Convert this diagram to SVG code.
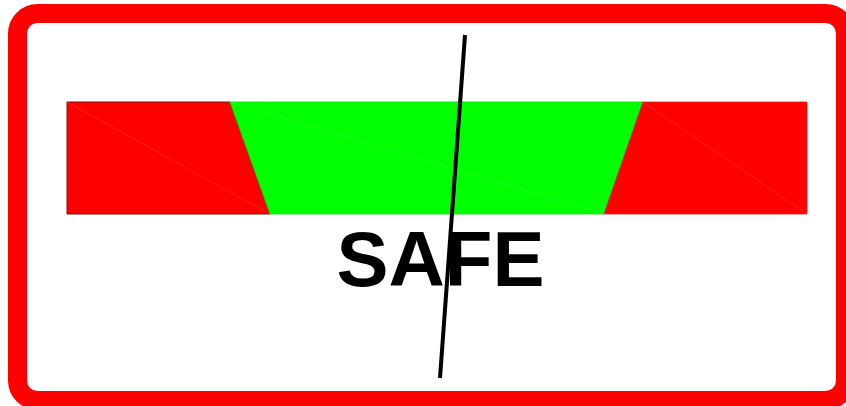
<svg xmlns="http://www.w3.org/2000/svg" width="846" height="406" viewBox="0 0 846 406">
<style>
.seam{stroke:#ff5050;stroke-width:0.6;fill:none;opacity:0.6}
.seamg{stroke:#60ff60;stroke-width:0.6;fill:none;opacity:0.6}
</style>
<rect width="846" height="406" fill="#fff"/>
<g id="frame">
<rect x="17.5" y="13.5" width="828" height="387" rx="20" ry="20" fill="#fff" stroke="#ff0000" stroke-width="19"/>
</g>
<g id="gauge">
<polygon points="67,102 230,102 270,214 67,214" fill="#ff0000" stroke="#7a1010" stroke-width="1"/>
<polygon points="230,102 643,102 604,214 270,214" fill="#00ff00" stroke="#00dd00" stroke-width="0.8"/>
<polygon points="643,102 807,102 807,214 604,214" fill="#ff0000" stroke="#dd2020" stroke-width="0.8"/>
<line class="seam" x1="67" y1="102" x2="270" y2="214"/>
<line class="seamg" x1="230" y1="102" x2="604" y2="214"/>
<line class="seam" x1="643" y1="102" x2="807" y2="214"/>
</g>
<g id="label">
<text x="440.5" y="286" font-family="Liberation Sans, Arial, sans-serif" font-weight="bold" font-size="78" text-anchor="middle" fill="#000">SAFE</text>
</g>
<g id="connectors">
<line x1="465" y1="35" x2="440" y2="378" stroke="#000" stroke-width="4"/>
</g>
</svg>
